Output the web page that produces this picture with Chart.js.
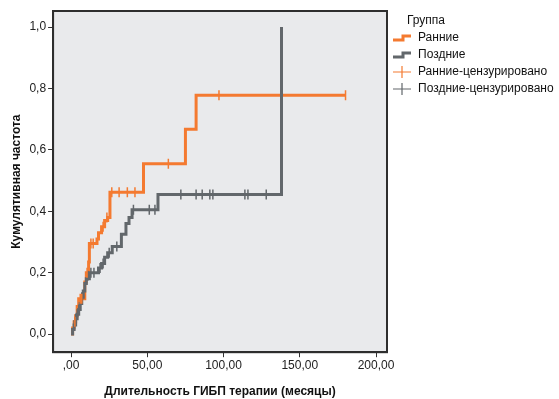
<!DOCTYPE html>
<html>
<head>
<meta charset="utf-8">
<script src="https://cdn.jsdelivr.net/npm/chart.js"></script>
<style>
  body { margin: 0; background: #ffffff; }
  #wrap { position: relative; width: 559px; height: 399px; }
</style>
</head>
<body>
<div id="wrap"><canvas id="grafico" width="559" height="399"></canvas></div>
<script>
// Ранние: шаги кумулятивной частоты (месяцы, доля)
const earlyMonths = [0, 1, 2, 3, 4, 5, 8, 9, 10, 11.5, 12, 16, 17, 18, 20, 22, 24, 25.5, 47.5, 75, 82, 180];
const earlyValues = [0, 0.02, 0.04, 0.06, 0.09, 0.115, 0.115, 0.17, 0.2, 0.235, 0.295, 0.295, 0.31, 0.33, 0.35, 0.37, 0.38, 0.462, 0.555, 0.667, 0.778, 0.778];
const earlyCensMonths = [2.5, 6, 7, 10.5, 13, 14.5, 21, 23.5, 26.7, 31.5, 36.9, 41.9, 63.8, 97, 180];
const earlyCensValues = [0.04, 0.115, 0.115, 0.2, 0.295, 0.295, 0.35, 0.38, 0.462, 0.462, 0.462, 0.462, 0.555, 0.778, 0.778];

// Поздние
const lateMonths = [0, 1, 2, 3, 4, 5, 6, 7, 8, 9, 10, 12, 16, 18, 20, 22, 24, 27, 32, 33, 36, 38, 40, 57, 138];
const lateValues = [0, 0.015, 0.03, 0.05, 0.065, 0.08, 0.1, 0.12, 0.14, 0.165, 0.18, 0.2, 0.2, 0.215, 0.23, 0.25, 0.265, 0.285, 0.285, 0.325, 0.36, 0.38, 0.405, 0.455, 1.0];
const lateCensMonths = [2, 3, 4, 5, 7, 11, 13, 15, 19, 21, 25, 30, 40.9, 51.3, 55, 72, 82, 86, 91, 93, 114, 116, 128];
const lateCensValues = [0.03, 0.05, 0.065, 0.08, 0.12, 0.19, 0.2, 0.2, 0.215, 0.23, 0.265, 0.285, 0.405, 0.405, 0.405, 0.455, 0.455, 0.455, 0.455, 0.455, 0.455, 0.455, 0.455];

const yTicks = [0, 0.2, 0.4, 0.6, 0.8, 1.0];
const xTicks = [0, 50, 100, 150, 200];
const seriesNames = ['Ранние', 'Поздние', 'Ранние-цензурировано', 'Поздние-цензурировано'];

const corLaranja = '#f47a30';
const corCinza = '#62676b';

function pares(xs, ys) {
    return xs.map((x, i) => ({ x: x, y: ys[i] }));
}

function iconeDegrau(cor) {
    const c = document.createElement('canvas');
    c.width = 20; c.height = 10;
    const g = c.getContext('2d');
    g.strokeStyle = cor; g.lineWidth = 3;
    g.beginPath();
    g.moveTo(1, 7); g.lineTo(11, 7); g.lineTo(11, 3); g.lineTo(19, 3);
    g.stroke();
    return c;
}

function iconeCruz(cor) {
    const c = document.createElement('canvas');
    c.width = 20; c.height = 14;
    const g = c.getContext('2d');
    g.strokeStyle = cor; g.lineWidth = 1.2;
    g.beginPath();
    g.moveTo(1, 7); g.lineTo(19, 7);
    g.moveTo(10, 1); g.lineTo(10, 13);
    g.stroke();
    return c;
}

const icones = [iconeDegrau(corLaranja), iconeDegrau(corCinza), iconeCruz(corLaranja), iconeCruz(corCinza)];

const fundoPlugin = {
    id: 'fundo',
    beforeDraw(chart) {
        const a = chart.chartArea;
        const ctx = chart.ctx;
        ctx.save();
        ctx.fillStyle = '#e9eaec';
        ctx.fillRect(a.left, a.top, a.right - a.left, a.bottom - a.top);
        ctx.restore();
    },
    afterDraw(chart) {
        const a = chart.chartArea;
        const ctx = chart.ctx;
        ctx.save();
        ctx.strokeStyle = '#2e2e2e';
        ctx.lineWidth = 2;
        ctx.strokeRect(a.left, a.top, a.right - a.left, a.bottom - a.top);
        ctx.restore();
    }
};

const fonte = 'Liberation Sans, Arial, sans-serif';

new Chart(document.getElementById('grafico').getContext('2d'), {
    type: 'line',
    data: {
        datasets: [
            {
                label: seriesNames[0],
                data: pares(earlyMonths, earlyValues),
                borderColor: corLaranja,
                borderWidth: 3,
                stepped: 'before',
                pointRadius: 0,
                fill: false,
                order: 2
            },
            {
                label: seriesNames[1],
                data: pares(lateMonths, lateValues),
                borderColor: corCinza,
                borderWidth: 3,
                stepped: 'before',
                pointRadius: 0,
                fill: false,
                order: 1
            },
            {
                label: seriesNames[2],
                data: pares(earlyCensMonths, earlyCensValues),
                showLine: false,
                pointStyle: 'line',
                rotation: 90,
                pointRadius: 5,
                borderColor: corLaranja,
                borderWidth: 1.5,
                order: 0
            },
            {
                label: seriesNames[3],
                data: pares(lateCensMonths, lateCensValues),
                showLine: false,
                pointStyle: 'line',
                rotation: 90,
                pointRadius: 5,
                borderColor: corCinza,
                borderWidth: 1.5,
                order: 0
            }
        ]
    },
    options: {
        responsive: false,
        animation: false,
        layout: { padding: { top: 11, bottom: 0, left: 9, right: 0 } },
        scales: {
            x: {
                type: 'linear',
                min: -11.8,
                max: 207.2,
                afterBuildTicks: s => { s.ticks = xTicks.map(v => ({ value: v })); },
                ticks: {
                    color: '#222',
                    font: { family: fonte, size: 12 },
                    padding: 1,
                    maxRotation: 0,
                    callback: v => v === 0 ? ',00' : v.toFixed(2).replace('.', ',')
                },
                grid: { drawOnChartArea: false, drawTicks: true, tickLength: 5, color: '#333' },
                border: { display: true, color: '#2e2e2e', width: 2 },
                title: {
                    display: true,
                    text: 'Длительность ГИБП терапии (месяцы)',
                    color: '#111',
                    font: { family: fonte, size: 12, weight: 'bold' },
                    padding: { top: 11, bottom: 0 }
                }
            },
            y: {
                min: -0.059,
                max: 1.0525,
                afterBuildTicks: s => { s.ticks = yTicks.map(v => ({ value: v })); },
                ticks: {
                    color: '#222',
                    font: { family: fonte, size: 12 },
                    padding: 2,
                    callback: v => v.toFixed(1).replace('.', ',')
                },
                grid: { drawOnChartArea: false, drawTicks: true, tickLength: 5, color: '#333' },
                border: { display: true, color: '#2e2e2e', width: 2 },
                title: {
                    display: true,
                    text: 'Кумулятивная частота',
                    color: '#111',
                    font: { family: fonte, size: 12, weight: 'bold' },
                    padding: { top: 0, bottom: 4 }
                }
            }
        },
        plugins: {
            legend: {
                position: 'right',
                align: 'start',
                maxWidth: 172,
                title: {
                    display: true,
                    text: '\u00a0\u00a0\u00a0\u00a0\u00a0\u00a0Группа',
                    position: 'start',
                    color: '#111',
                    font: { family: fonte, size: 12, lineHeight: 1 },
                    padding: { top: 4, bottom: 0 }
                },
                labels: {
                    usePointStyle: true,
                    pointStyleWidth: 20,
                    padding: 5,
                    color: '#111',
                    font: { family: fonte, size: 12 },
                    generateLabels: chart => chart.data.datasets.map((ds, i) => ({
                        text: ds.label,
                        pointStyle: icones[i],
                        fillStyle: 'transparent',
                        strokeStyle: 'transparent',
                        lineWidth: 0,
                        fontColor: '#111',
                        hidden: false,
                        datasetIndex: i
                    }))
                }
            },
            tooltip: { enabled: false }
        }
    },
    plugins: [fundoPlugin]
});
</script>
</body>
</html>
